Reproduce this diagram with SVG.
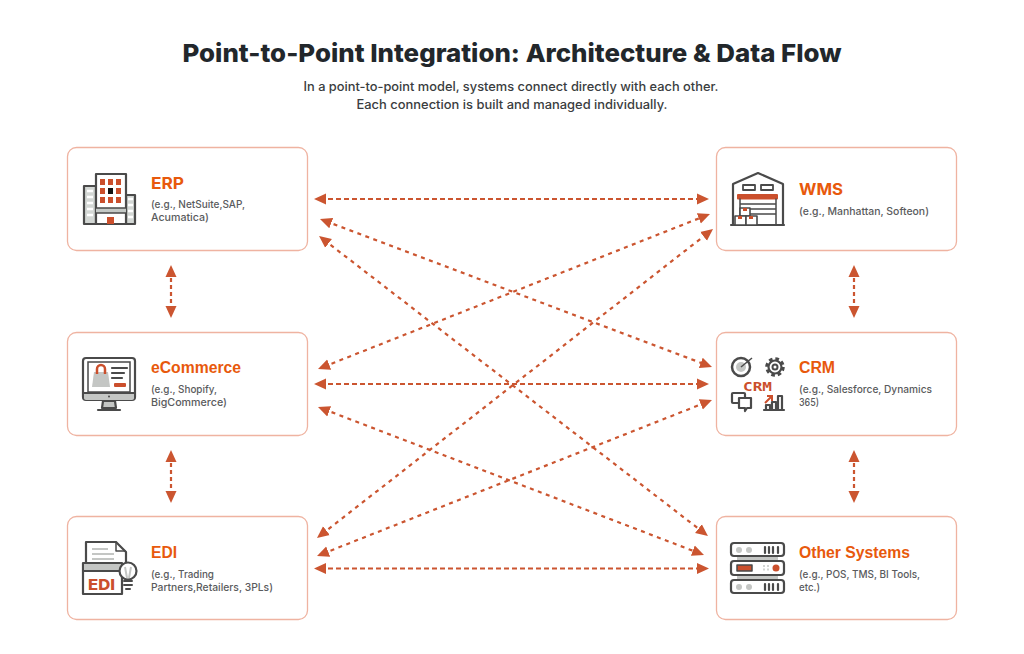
<svg xmlns="http://www.w3.org/2000/svg" width="1024" height="654" viewBox="0 0 1024 654">
<style>
text{font-family:"Inter","Liberation Sans",sans-serif}
.card{fill:#fff;stroke:#efb3a1;stroke-width:1.3}
.h{font-family:"Liberation Sans",sans-serif;font-size:16px;font-weight:700;fill:#e8590c}
.m{font-family:"Inter","Liberation Sans",sans-serif;font-size:16px;font-weight:700;fill:#e8590c}
.s{font-family:"Inter","Liberation Sans",sans-serif;font-size:10.500px;font-weight:500;fill:#5a5b5d}
.sub{font-family:"Inter","Liberation Sans",sans-serif;font-size:12.500px;font-weight:500;fill:#3a3d40;text-anchor:middle}
.c{fill:none;stroke:#cb5530;stroke-width:2.200;stroke-dasharray:5 3;marker-start:url(#a);marker-end:url(#a)}
.x{stroke-dasharray:4 4.500}
.v{stroke-dasharray:4 3}
.o{fill:#fff;stroke:#4a4a4a;stroke-width:2.200;stroke-linejoin:round}
.d{fill:none;stroke:#4a4a4a;stroke-width:2.200;stroke-linecap:round;stroke-linejoin:round}
.g{fill:#c4c6c4}
.r{fill:#cb4f2c}
</style>
<defs>
<marker id="a" viewBox="0 0 12 12" refX="6" refY="6" markerWidth="12" markerHeight="12" markerUnits="userSpaceOnUse" orient="auto-start-reverse"><path d="M0 0.5L0 11.500L12 6Z" fill="#cb5530"/></marker>
</defs>
<rect width="1024" height="654" fill="#fff"/>
<g id="header">
<text x="512" y="62" text-anchor="middle" font-size="25" font-weight="800" fill="#22272b" textLength="659" lengthAdjust="spacingAndGlyphs">Point-to-Point Integration: Architecture &amp; Data Flow</text>
<text class="sub" x="511" y="91" textLength="415" lengthAdjust="spacingAndGlyphs">In a point-to-point model, systems connect directly with each other.</text>
<text class="sub" x="512" y="109" textLength="311" lengthAdjust="spacingAndGlyphs">Each connection is built and managed individually.</text>
</g>
<g id="connectors">
<line class="c" x1="320" y1="199" x2="703" y2="199"/>
<line class="c x" x1="325.600" y1="221.100" x2="706.400" y2="364.900"/>
<line class="c x" x1="323.800" y1="239.700" x2="703.200" y2="532.300"/>
<line class="c x" x1="323.600" y1="366.800" x2="704.400" y2="216.200"/>
<line class="c" x1="320" y1="384" x2="703" y2="384"/>
<line class="c x" x1="323.600" y1="409.100" x2="698.400" y2="552.900"/>
<line class="c x" x1="321.700" y1="534.300" x2="708.300" y2="232.700"/>
<line class="c x" x1="322.600" y1="553.800" x2="706.400" y2="402.200"/>
<line class="c" x1="320" y1="568.500" x2="703" y2="568.500"/>
<line class="c v" x1="171" y1="271" x2="171" y2="312"/>
<line class="c v" x1="171" y1="456" x2="171" y2="497"/>
<line class="c v" x1="854" y1="271" x2="854" y2="312"/>
<line class="c v" x1="854" y1="456" x2="854" y2="497"/>
</g>
<g id="erp">
<rect class="card" x="67.500" y="147.500" width="240" height="103" rx="9"/>
<rect class="o" x="84" y="186" width="12" height="38" style="fill:#d3d7d4"/><rect class="o" x="126" y="195" width="9" height="29" style="fill:#d3d7d4"/>
<path d="M87 191H93M87 197H93M87 203H93M87 209H93M87 215H93M128 199H133M128 205H133M128 211H133M128 217H133" stroke="#fff" stroke-width="2.500"/>
<rect class="o" x="96" y="174" width="30" height="50"/>
<g class="r"><rect x="100" y="179" width="5" height="6"/><rect x="108" y="179" width="5" height="6"/><rect x="116" y="179" width="5" height="6"/><rect x="100" y="188" width="5" height="6"/><rect x="116" y="188" width="5" height="6"/><rect x="100" y="197" width="5" height="6"/><rect x="108" y="197" width="5" height="6"/><rect x="116" y="197" width="5" height="6"/><rect x="107" y="217" width="7" height="7"/></g>
<rect x="108" y="188" width="5" height="6" fill="#111"/>
<rect x="96" y="208" width="30" height="5" fill="#c4c9c6"/>
<path class="d" d="M96 208H126M96 213H126" style="stroke-width:1.500"/>
<text class="m" x="151" y="189" textLength="33" lengthAdjust="spacingAndGlyphs">ERP</text>
<text class="s" x="151" y="208" textLength="94" lengthAdjust="spacingAndGlyphs">(e.g., NetSuite,SAP,</text><text class="s" x="151" y="221" textLength="58" lengthAdjust="spacingAndGlyphs">Acumatica)</text>
</g>
<g id="ecommerce">
<rect class="card" x="67.500" y="332.500" width="240" height="103" rx="9"/>
<rect class="o" x="83" y="358" width="52" height="42" rx="3"/>
<rect x="88" y="362" width="42" height="30" fill="#fff" stroke="#4a4a4a" stroke-width="1.500"/>
<path d="M84 393H134V398a2 2 0 0 1-2 2H86a2 2 0 0 1-2-2Z" class="g"/><path class="d" d="M83 393H135"/>
<circle cx="109" cy="396.500" r="1" fill="#4a4a4a"/>
<path class="o" style="fill:#c4c6c4" d="M103 401H115L116 408H102Z"/><path class="d" d="M98 410H120"/>
<path class="g" d="M94 372H108L110 387H92Z"/>
<path d="M97 374V369a4 4 0 0 1 8 0V374" fill="none" stroke="#cb4f2c" stroke-width="2.500"/>
<path class="d" d="M112 368H127M112 373H124M112 378H122"/>
<rect class="r" x="114" y="383" width="12" height="4" rx="1"/>
<text class="h" x="151" y="373" textLength="90" lengthAdjust="spacingAndGlyphs">eCommerce</text>
<text class="s" x="151" y="393" textLength="66" lengthAdjust="spacingAndGlyphs">(e.g., Shopify,</text><text class="s" x="151" y="406" textLength="76" lengthAdjust="spacingAndGlyphs">BigCommerce)</text>
</g>
<g id="edi">
<rect class="card" x="67.500" y="516.500" width="240" height="103" rx="9"/>
<path class="o" d="M86 542H116L126 552V570H86Z"/>
<path class="d" d="M116 542V551H125" style="stroke-width:1.500"/>
<path d="M92 549H108M92 554H114M92 559H114" fill="none" stroke="#c4c6c4" stroke-width="2"/>
<path class="o" d="M83 563H122V594H83Z"/>
<rect x="84" y="564" width="37" height="6" class="g"/>
<path class="d" d="M83 571H122"/>
<text x="88" y="590" font-size="15" font-weight="800" fill="#cb4f2c" textLength="27" lengthAdjust="spacingAndGlyphs">EDI</text>
<circle class="o" cx="128" cy="571" r="8.500"/>
<path class="d" d="M124 581H132M124 585H132M126 589H130" style="stroke-width:2"/>
<path d="M125 567L127 578M131 567L129 578" fill="none" stroke="#c4c6c4" stroke-width="2"/>
<text class="h" x="151" y="558" textLength="26" lengthAdjust="spacingAndGlyphs">EDI</text>
<text class="s" x="151" y="578" textLength="63" lengthAdjust="spacingAndGlyphs">(e.g., Trading</text><text class="s" x="151" y="591" textLength="122" lengthAdjust="spacingAndGlyphs">Partners,Retailers, 3PLs)</text>
</g>
<g id="wms">
<rect class="card" x="716.500" y="147.500" width="240" height="103" rx="9"/>
<path class="o" d="M733 225V184L758 173L783 184V225"/>
<path class="d" d="M731 225H784"/>
<rect class="d" x="743" y="185" width="12" height="5" style="stroke-width:1.800"/><rect class="d" x="761" y="185" width="12" height="5" style="stroke-width:1.800"/>
<rect class="r" x="737" y="194" width="41" height="5.500" rx="1"/>
<path class="d" d="M740 199V225M776 199V225M740 204H776M740 209H776M740 214H776" style="stroke-width:1.500"/>
<rect class="o" x="740" y="208" width="10" height="8" style="stroke-width:1.600"/><rect class="o" x="735" y="216" width="11" height="9" style="stroke-width:1.600"/><rect class="o" x="746" y="216" width="11" height="9" style="stroke-width:1.600"/>
<rect class="r" x="743" y="208" width="4" height="3"/><rect class="r" x="738" y="216" width="4" height="3"/><rect class="r" x="749" y="216" width="4" height="3"/>
<text class="m" x="799" y="195" textLength="44" lengthAdjust="spacingAndGlyphs">WMS</text>
<text class="s" x="799" y="215" textLength="130" lengthAdjust="spacingAndGlyphs">(e.g., Manhattan, Softeon)</text>
</g>
<g id="crm">
<rect class="card" x="716.500" y="332.500" width="240" height="103" rx="9"/>
<circle class="o" cx="741" cy="367" r="9" style="stroke-width:2.500"/><circle cx="741" cy="367" r="5" class="g"/><path d="M741 367L752 358" stroke="#4a4a4a" stroke-width="1.500"/>
<circle cx="775" cy="367" r="8" fill="none" stroke="#4a4a4a" stroke-width="3.500" stroke-dasharray="3.500 2.800"/><circle class="o" cx="775" cy="367" r="6.500"/><circle cx="775" cy="367" r="2.500" fill="none" stroke="#4a4a4a" stroke-width="2"/>
<text x="743" y="391" font-size="13" font-weight="700" fill="#cb4f2c" textLength="29" lengthAdjust="spacingAndGlyphs" style="font-family:'DejaVu Sans Mono','Liberation Mono',monospace">CRM</text>
<rect class="o" x="732" y="393" width="13" height="10" rx="1"/><path class="o" d="M739 398H751V408H747L745 411V408H739Z"/>
<path class="d" d="M764 410H784M766 410V405H770V410M772 410V402H776V410M778 410V396H782V410"/>
<path d="M765 403L771 397M767 396H772V401" fill="none" stroke="#cb4f2c" stroke-width="2"/>
<text class="h" x="799" y="373" textLength="36" lengthAdjust="spacingAndGlyphs">CRM</text>
<text class="s" x="799" y="393" textLength="133" lengthAdjust="spacingAndGlyphs">(e.g., Salesforce, Dynamics</text><text class="s" x="799" y="406" textLength="20" lengthAdjust="spacingAndGlyphs">365)</text>
</g>
<g id="other">
<rect class="card" x="716.500" y="516.500" width="240" height="103" rx="9"/>
<rect x="737" y="554" width="41" height="8" class="g"/><rect x="737" y="573" width="41" height="8" class="g"/>
<rect class="o" x="731" y="543" width="53" height="13" rx="3"/><rect class="o" x="731" y="561" width="53" height="14" rx="3"/><rect class="o" x="731" y="580" width="53" height="13" rx="3"/>
<circle class="g" cx="739" cy="550" r="3"/><circle class="g" cx="749" cy="550" r="3"/><circle class="g" cx="739" cy="587" r="3"/><circle class="g" cx="749" cy="587" r="3"/>
<path class="d" d="M765 547V553M769 547V553M773 547V553M778 547V553M765 584V590M769 584V590M773 584V590M778 584V590"/>
<rect class="o" x="737" y="565" width="15" height="6" style="stroke-width:1.500;fill:#cb4f2c"/>
<circle class="r" cx="776" cy="568" r="3.500"/>
<path d="M764 565V571M768 565V571" stroke="#c4c6c4" stroke-width="1.500" stroke-dasharray="2 1.500"/>
<text class="h" x="799" y="558" textLength="111" lengthAdjust="spacingAndGlyphs">Other Systems</text>
<text class="s" x="799" y="578" textLength="121" lengthAdjust="spacingAndGlyphs">(e.g., POS, TMS, BI Tools,</text><text class="s" x="799" y="591" textLength="21" lengthAdjust="spacingAndGlyphs">etc.)</text>
</g>
</svg>
